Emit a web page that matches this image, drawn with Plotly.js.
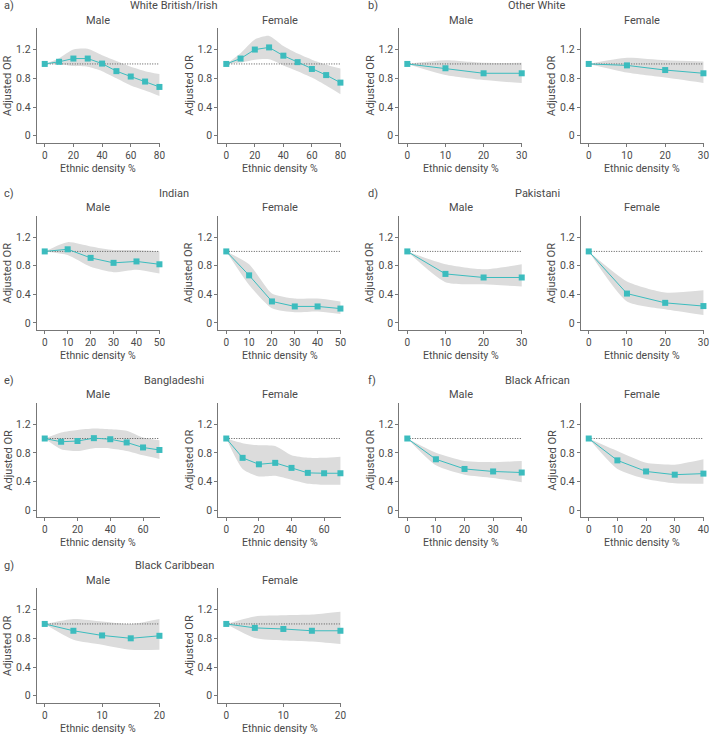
<!DOCTYPE html>
<html>
<head>
<meta charset="utf-8">
<script src="https://cdn.plot.ly/plotly-3.0.1.min.js"></script>
<style>
  html, body { margin: 0; padding: 0; background: #fff; }
  #chart { width: 711px; height: 736px; }
</style>
</head>
<body>
<div id="chart"></div>
<script>
// a) White British/Irish
const wbX        = [0, 10, 20, 30, 40, 50, 60, 70, 80];
const wbMale     = [1.00, 1.03, 1.075, 1.075, 1.005, 0.90, 0.825, 0.755, 0.68];
const wbMaleLo   = [1.00, 1.00, 0.97, 0.96, 0.90, 0.80, 0.70, 0.63, 0.555];
const wbMaleHi   = [1.00, 1.08, 1.20, 1.21, 1.12, 1.04, 0.96, 0.90, 0.86];
const wbFemale   = [1.00, 1.075, 1.20, 1.23, 1.115, 1.025, 0.93, 0.845, 0.74];
const wbFemaleLo = [1.00, 1.02, 1.06, 1.065, 0.98, 0.90, 0.81, 0.70, 0.58];
const wbFemaleHi = [1.00, 1.15, 1.34, 1.39, 1.25, 1.145, 1.06, 0.99, 0.935];

// b) Other White
const owX        = [0, 10, 20, 30];
const owMale     = [1.00, 0.94, 0.87, 0.87];
const owMaleLo   = [1.00, 0.845, 0.775, 0.735];
const owMaleHi   = [1.00, 1.05, 1.015, 1.015];
const owFemale   = [1.00, 0.98, 0.915, 0.87];
const owFemaleLo = [1.00, 0.88, 0.81, 0.735];
const owFemaleHi = [1.00, 1.085, 1.05, 1.035];

// c) Indian
const inX        = [0, 10, 20, 30, 40, 50];
const inMale     = [1.00, 1.03, 0.91, 0.84, 0.86, 0.82];
const inMaleLo   = [1.00, 0.95, 0.785, 0.71, 0.745, 0.69];
const inMaleHi   = [1.00, 1.13, 1.07, 1.02, 1.02, 1.00];
const inFemale   = [1.00, 0.665, 0.30, 0.23, 0.23, 0.20];
const inFemaleLo = [1.00, 0.53, 0.205, 0.15, 0.16, 0.125];
const inFemaleHi = [1.00, 0.82, 0.41, 0.34, 0.34, 0.30];

// d) Pakistani
const pkX        = [0, 10, 20, 30];
const pkMale     = [1.00, 0.685, 0.635, 0.635];
const pkMaleLo   = [1.00, 0.57, 0.54, 0.51];
const pkMaleHi   = [1.00, 0.82, 0.75, 0.82];
const pkFemale   = [1.00, 0.41, 0.28, 0.235];
const pkFemaleLo = [1.00, 0.30, 0.19, 0.11];
const pkFemaleHi = [1.00, 0.58, 0.425, 0.455];

// e) Bangladeshi
const bdX        = [0, 10, 20, 30, 40, 50, 60, 70];
const bdMale     = [1.00, 0.955, 0.965, 1.005, 0.99, 0.945, 0.875, 0.84];
const bdMaleLo   = [1.00, 0.85, 0.825, 0.865, 0.86, 0.825, 0.765, 0.715];
const bdMaleHi   = [1.00, 1.085, 1.12, 1.14, 1.13, 1.11, 1.015, 0.975];
const bdFemale   = [1.00, 0.73, 0.64, 0.66, 0.59, 0.52, 0.515, 0.515];
const bdFemaleLo = [1.00, 0.575, 0.47, 0.48, 0.425, 0.37, 0.355, 0.355];
const bdFemaleHi = [1.00, 0.935, 0.905, 0.895, 0.765, 0.73, 0.73, 0.745];

// f) Black African
const baX        = [0, 10, 20, 30, 40];
const baMale     = [1.00, 0.71, 0.575, 0.54, 0.525];
const baMaleLo   = [1.00, 0.625, 0.495, 0.45, 0.39];
const baMaleHi   = [1.00, 0.80, 0.685, 0.67, 0.685];
const baFemale   = [1.00, 0.695, 0.54, 0.495, 0.51];
const baFemaleLo = [1.00, 0.575, 0.435, 0.375, 0.37];
const baFemaleHi = [1.00, 0.825, 0.66, 0.635, 0.71];

// g) Black Caribbean
const bcX        = [0, 5, 10, 15, 20];
const bcMale     = [1.00, 0.905, 0.84, 0.80, 0.835];
const bcMaleLo   = [1.00, 0.78, 0.71, 0.64, 0.64];
const bcMaleHi   = [1.00, 1.07, 1.035, 1.00, 1.07];
const bcFemale   = [1.00, 0.945, 0.93, 0.905, 0.905];
const bcFemaleLo = [1.00, 0.805, 0.77, 0.755, 0.72];
const bcFemaleHi = [1.00, 1.105, 1.12, 1.13, 1.17];

const yTicks = [0, 0.4, 0.8, 1.2];
const sexes  = ["Male", "Female"];

const groups = [
  { tag: "a)", name: "White British/Irish", x: wbX, dtick: 20,
    male: [wbMale, wbMaleLo, wbMaleHi], female: [wbFemale, wbFemaleLo, wbFemaleHi] },
  { tag: "b)", name: "Other White", x: owX, dtick: 10,
    male: [owMale, owMaleLo, owMaleHi], female: [owFemale, owFemaleLo, owFemaleHi] },
  { tag: "c)", name: "Indian", x: inX, dtick: 10,
    male: [inMale, inMaleLo, inMaleHi], female: [inFemale, inFemaleLo, inFemaleHi] },
  { tag: "d)", name: "Pakistani", x: pkX, dtick: 10,
    male: [pkMale, pkMaleLo, pkMaleHi], female: [pkFemale, pkFemaleLo, pkFemaleHi] },
  { tag: "e)", name: "Bangladeshi", x: bdX, dtick: 20,
    male: [bdMale, bdMaleLo, bdMaleHi], female: [bdFemale, bdFemaleLo, bdFemaleHi] },
  { tag: "f)", name: "Black African", x: baX, dtick: 10,
    male: [baMale, baMaleLo, baMaleHi], female: [baFemale, baFemaleLo, baFemaleHi] },
  { tag: "g)", name: "Black Caribbean", x: bcX, dtick: 10,
    male: [bcMale, bcMaleLo, bcMaleHi], female: [bcFemale, bcFemaleLo, bcFemaleHi] },
];

// page geometry in pixels
const W = 711, H = 736;
const COLS = [[36.7, 160], [218.3, 341], [399.3, 522.3], [580.7, 704]];
const ROWS = [[28, 143], [215.7, 330], [402.7, 517.3], [588, 703]];
const GROUP_CX  = [174, 537];
const GROUP_TAG = [2, 365.5];

const TEAL = "#3cbcbe";
const BAND = "#dcdcdc";
const AXIS = "#777777";
const TEXT = "#4a4a4a";
const FONT = "Roboto, sans-serif";

const px = v => v / W;
const py = v => 1 - v / H;

const data = [];
const layout = {
  width: W, height: H,
  margin: { t: 0, b: 0, l: 0, r: 0 },
  paper_bgcolor: "#fff", plot_bgcolor: "#fff",
  showlegend: false,
  font: { family: FONT, color: TEXT, size: 10 },
  annotations: [],
};

function note(text, x, y, opts) {
  layout.annotations.push(Object.assign({
    text, x: px(x), y: py(y), xref: "paper", yref: "paper",
    showarrow: false, xanchor: "center", yanchor: "middle",
    font: { family: FONT, color: TEXT, size: 11 },
  }, opts || {}));
}

groups.forEach((g, gi) => {
  const row = Math.floor(gi / 2), side = gi % 2;
  const [top, bot] = ROWS[row];
  note(g.tag, GROUP_TAG[side], top - 22.3, { xanchor: "left" });
  note(g.name, GROUP_CX[side], top - 22.3);

  const xmax = g.x[g.x.length - 1];
  [g.male, g.female].forEach((series, si) => {
    const idx = gi * 2 + si + 1;
    const xa = "x" + idx, ya = "y" + idx;
    const [left, right] = COLS[side * 2 + si];
    const [or, lo, hi] = series;

    data.push({ x: g.x, y: lo, xaxis: xa, yaxis: ya, type: "scatter", mode: "lines",
      line: { width: 0, shape: "spline", smoothing: 0.6 }, hoverinfo: "skip" });
    data.push({ x: g.x, y: hi, xaxis: xa, yaxis: ya, type: "scatter", mode: "lines",
      fill: "tonexty", fillcolor: BAND,
      line: { width: 0, shape: "spline", smoothing: 0.6 }, hoverinfo: "skip" });
    data.push({ x: [g.x[0], xmax], y: [1, 1], xaxis: xa, yaxis: ya, type: "scatter", mode: "lines",
      line: { color: "#555", width: 1, dash: "1px,1.5px" }, hoverinfo: "skip" });
    data.push({ x: g.x, y: or, xaxis: xa, yaxis: ya, type: "scatter", mode: "lines+markers",
      line: { color: TEAL, width: 1 },
      marker: { color: TEAL, symbol: "square", size: 6 },
      cliponaxis: false,
      hovertemplate: "%{x}%: %{y:.2f}<extra></extra>" });

    const axKey = idx === 1 ? "" : idx;
    layout["xaxis" + axKey] = {
      domain: [px(left), px(right)], anchor: ya,
      range: [-0.07 * xmax, xmax * 1.005], dtick: g.dtick, tick0: 0,
      showgrid: false, zeroline: false, showline: true, linecolor: AXIS, linewidth: 1,
      ticks: "outside", ticklen: 3, tickcolor: AXIS,
      tickfont: { family: FONT, size: 10, color: TEXT }, fixedrange: true,
    };
    layout["yaxis" + axKey] = {
      domain: [py(bot), py(top)], anchor: xa,
      range: [-0.1, 1.5], tickvals: yTicks, ticktext: ["0", "0.4", "0.8", "1.2"],
      showgrid: false, zeroline: false, showline: true, linecolor: AXIS, linewidth: 1,
      ticks: "outside", ticklen: 3, tickcolor: AXIS,
      tickfont: { family: FONT, size: 10.5, color: TEXT }, fixedrange: true,
    };

    note(sexes[si], (left + right) / 2, top - 8);
    note("Adjusted OR", left - 29, (top + bot) / 2, { textangle: -90 });
    note("Ethnic density %", (left + right) / 2, bot + 25, { font: { family: FONT, color: TEXT, size: 10.5 } });
  });
});

Plotly.newPlot("chart", data, layout, { displayModeBar: false });
</script>
</body>
</html>
